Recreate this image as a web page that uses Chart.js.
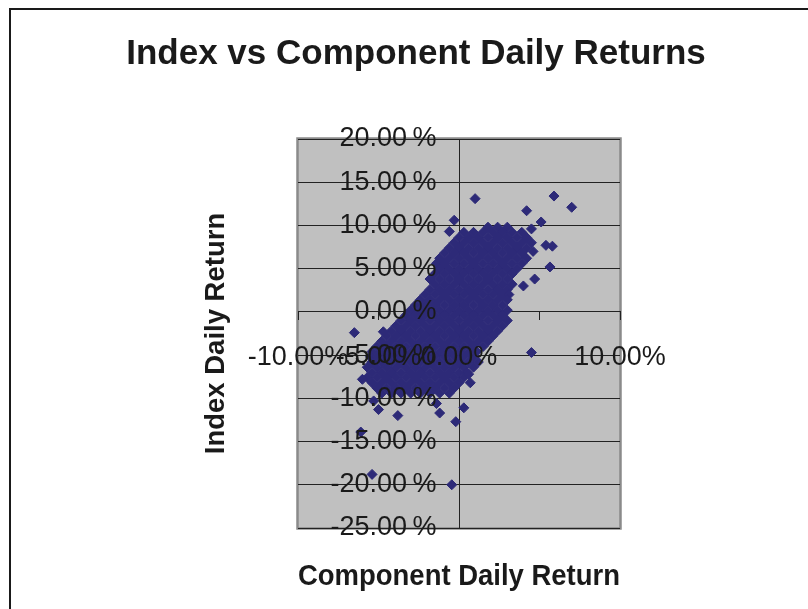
<!DOCTYPE html>
<html><head><meta charset="utf-8">
<script src="https://cdn.jsdelivr.net/npm/chart.js@4.4.1/dist/chart.umd.min.js"></script>
<style>html,body{margin:0;padding:0;background:#fff;}#c{display:block;}</style>
</head><body>
<canvas id="c" width="808" height="609"></canvas>
<script>
const chartTitle = 'Index vs Component Daily Returns';
const xAxisTitle = 'Component Daily Return';
const yAxisTitle = 'Index Daily Return';

const xTickValues = [-10, -5, 0, 5, 10];
const xTickLabels = ['-10.00%', '-5.00%', '0.00%', '', '10.00%'];
const yTickValues = [-25, -20, -15, -10, -5, 0, 5, 10, 15, 20];
const yTickLabels = ['-25.00\u2009%', '-20.00\u2009%', '-15.00\u2009%', '-10.00\u2009%', '-5.00\u2009%', '0.00\u2009%', '5.00\u2009%', '10.00\u2009%', '15.00\u2009%', '20.00\u2009%'];

// Dense cluster, read row by row: index return (y, %) and the component returns (x, %) seen on that row
const clusterIndexReturn = [9.8, 9.2, 8.6, 8.0, 7.4, 6.8, 6.2, 5.6, 5.0, 4.4, 3.8, 3.2, 2.6, 2.0, 1.4, 0.8, 0.2, -0.4, -1.0, -1.6, -2.2, -2.8, -3.4, -4.0, -4.6, -5.2, -5.8, -6.4, -7.0, -7.6, -8.2, -8.8, -9.4];
const clusterComponentReturn = [
  [1.8, 2.4, 3.0],
  [0.3, 0.9, 1.5, 2.1, 2.7, 3.3, 3.9],
  [0.0, 0.6, 1.2, 1.8, 2.4, 3.0, 3.6, 4.2],
  [-0.3, 0.3, 0.9, 1.5, 2.1, 2.7, 3.3, 3.9, 4.5],
  [-0.6, 0.0, 0.6, 1.2, 1.8, 2.4, 3.0, 3.6, 4.2],
  [-0.9, -0.3, 0.3, 0.9, 1.5, 2.1, 2.7, 3.3, 3.9],
  [-1.2, -0.6, 0.0, 0.6, 1.2, 1.8, 2.4, 3.0, 3.6, 4.2],
  [-1.4, -0.9, -0.3, 0.3, 0.9, 1.5, 2.1, 2.7, 3.3, 3.9],
  [-1.2, -0.6, 0.0, 0.6, 1.2, 1.8, 2.4, 3.0, 3.6],
  [-1.5, -0.9, -0.3, 0.3, 0.9, 1.5, 2.1, 2.7, 3.3],
  [-1.8, -1.2, -0.6, 0.0, 0.6, 1.2, 1.8, 2.4, 3.0],
  [-1.5, -0.9, -0.3, 0.3, 0.9, 1.5, 2.1, 2.7, 3.3],
  [-1.8, -1.2, -0.6, 0.0, 0.6, 1.2, 1.8, 2.4, 3.0],
  [-2.1, -1.5, -0.9, -0.3, 0.3, 0.9, 1.5, 2.1, 2.7, 3.1],
  [-2.4, -1.8, -1.2, -0.6, 0.0, 0.6, 1.2, 1.8, 2.4, 3.0],
  [-2.7, -2.1, -1.5, -0.9, -0.3, 0.3, 0.9, 1.5, 2.1, 2.7],
  [-3.0, -2.4, -1.8, -1.2, -0.6, 0.0, 0.6, 1.2, 1.8, 2.4, 3.0],
  [-3.3, -2.7, -2.1, -1.5, -0.9, -0.3, 0.3, 0.9, 1.5, 2.1, 2.7],
  [-3.6, -3.0, -2.4, -1.8, -1.2, -0.6, 0.0, 0.6, 1.2, 1.8, 2.4, 3.0],
  [-3.9, -3.3, -2.7, -2.1, -1.5, -0.9, -0.3, 0.3, 0.9, 1.5, 2.1, 2.7],
  [-4.2, -3.6, -3.0, -2.4, -1.8, -1.2, -0.6, 0.0, 0.6, 1.2, 1.8, 2.4],
  [-4.5, -3.9, -3.3, -2.7, -2.1, -1.5, -0.9, -0.3, 0.3, 0.9, 1.5, 2.1],
  [-4.8, -4.2, -3.6, -3.0, -2.4, -1.8, -1.2, -0.6, 0.0, 0.6, 1.2, 1.8],
  [-5.1, -4.5, -3.9, -3.3, -2.7, -2.1, -1.5, -0.9, -0.3, 0.3, 0.9, 1.5],
  [-5.4, -4.8, -4.2, -3.6, -3.0, -2.4, -1.8, -1.2, -0.6, 0.0, 0.6, 1.1],
  [-5.5, -5.1, -4.5, -3.9, -3.3, -2.7, -2.1, -1.5, -0.9, -0.3, 0.3, 0.9],
  [-5.4, -4.8, -4.2, -3.6, -3.0, -2.4, -1.8, -1.2, -0.6, 0.0, 0.6, 1.2],
  [-5.7, -5.1, -4.5, -3.9, -3.3, -2.7, -2.1, -1.5, -0.9, -0.3, 0.3, 0.9],
  [-5.4, -4.8, -4.2, -3.6, -3.0, -2.4, -1.8, -1.2, -0.6, 0.0, 0.5],
  [-5.7, -5.1, -4.5, -3.9, -3.3, -2.7, -2.1, -1.5, -0.9, -0.3, 0.3],
  [-5.4, -4.8, -4.2, -3.6, -3.0, -2.4, -1.8, -1.2, -0.6, 0.0],
  [-5.1, -4.5, -3.9, -3.3, -2.7, -2.1, -1.5, -0.9, -0.3],
  [-4.8, -4.2, -3.6, -3.0, -2.4, -1.8, -1.2, -0.6]
];

// Scattered points outside the cluster: [component %, index %]
const outlierPoints = [
  [1.0, 13.1], [5.9, 13.4], [7.0, 12.1], [4.2, 11.7], [5.1, 10.4], [-0.3, 10.6], [-0.6, 9.3],
  [4.5, 9.6], [5.8, 7.6], [5.4, 7.7], [4.6, 7.0], [5.65, 5.2], [4.7, 3.8], [4.0, 3.0],
  [4.5, -4.7], [-6.5, -2.4], [-4.7, -2.3], [0.6, -7.2], [0.7, -8.2], [-6.0, -7.8],
  [-5.3, -10.3], [-5.0, -11.3], [-3.8, -12.0], [-1.4, -10.6], [-1.2, -11.7], [0.3, -11.1],
  [-0.2, -12.7], [-6.1, -13.9], [-5.4, -18.8], [-0.45, -20.0]
];

const points = [];
clusterIndexReturn.forEach((y, i) => clusterComponentReturn[i].forEach(x => points.push({x, y})));
outlierPoints.forEach(([x, y]) => points.push({x, y}));

const FONT = "'Liberation Sans', Arial, sans-serif";
const TEXT = '#1a1a1a';
const LINE = '#222222';
const MARK = '#2D2A78';
const Y_LABEL_GAP = '\u00a0\u00a0\u00a0';

const plotFrame = {
  id: 'plotFrame',
  beforeDraw(chart) {
    const {ctx, chartArea: a} = chart;
    ctx.save();
    ctx.fillStyle = '#ffffff';
    ctx.fillRect(0, 0, chart.width, chart.height);
    ctx.strokeStyle = '#1a1a1a';
    ctx.lineWidth = 2;
    ctx.beginPath();
    ctx.moveTo(10, chart.height);
    ctx.lineTo(10, 9);
    ctx.lineTo(chart.width, 9);
    ctx.stroke();
    ctx.fillStyle = '#c0c0c0';
    ctx.fillRect(a.left, a.top, a.width, a.height);
    ctx.strokeStyle = '#8a8a8a';
    ctx.lineWidth = 2.5;
    ctx.strokeRect(a.left - 0.5, a.top - 0.5, a.width + 1, a.height + 1);
    ctx.restore();
  }
};

const titleOnly = (axis, position, text, size, weight, padding) => ({
  type: 'linear', axis, position, display: true,
  ticks: {display: false},
  grid: {display: false, drawTicks: false},
  border: {display: false},
  title: {display: true, text, color: TEXT, font: {family: FONT, size, weight}, padding}
});

new Chart(document.getElementById('c'), {
  type: 'scatter',
  data: {
    datasets: [{
      data: points,
      xAxisID: 'x', yAxisID: 'y',
      pointStyle: 'rectRot',
      pointRadius: 5,
      pointBorderWidth: 1,
      backgroundColor: MARK,
      borderColor: MARK
    }]
  },
  plugins: [plotFrame],
  options: {
    responsive: false,
    animation: false,
    devicePixelRatio: 1,
    layout: {padding: {left: 24, right: 0, top: 0, bottom: 0}},
    plugins: {
      legend: {display: false},
      tooltip: {enabled: false},
      title: {
        display: true, text: chartTitle, color: TEXT,
        font: {family: FONT, size: 35, weight: 'bold'},
        padding: {top: 33, bottom: 64}
      }
    },
    scales: {
      x: {
        type: 'linear', position: {y: 0}, min: -10, max: 10,
        ticks: {
          stepSize: 5, z: 1, padding: 21, color: TEXT, autoSkip: false, maxRotation: 0, minRotation: 0,
          font: {family: FONT, size: 27},
          callback: v => { const i = xTickValues.indexOf(v); return i < 0 ? '' : xTickLabels[i]; }
        },
        grid: {drawOnChartArea: false, drawTicks: true, tickLength: 8, color: LINE, lineWidth: 1},
        border: {display: true, color: LINE, width: 1}
      },
      y: {
        type: 'linear', position: {x: 0}, min: -25, max: 20,
        ticks: {
          stepSize: 5, z: 1, padding: 15, color: TEXT, autoSkip: false,
          font: {family: FONT, size: 27},
          callback: v => { const i = yTickValues.indexOf(v); return i < 0 ? '' : yTickLabels[i] + Y_LABEL_GAP; }
        },
        grid: {drawOnChartArea: true, drawTicks: true, tickLength: 8, color: LINE, lineWidth: 1},
        border: {display: true, color: LINE, width: 1}
      },
      xTitle: titleOnly('x', 'bottom', xAxisTitle, 29, 'bold', {top: 31.2, bottom: 15}),
      yTitle: titleOnly('y', 'left', yAxisTitle, 27.5, 'bold', {top: 175.5, bottom: 65.5}),
      yPad: titleOnly('y', 'right', '', 10, 'normal', {top: 0, bottom: 176})
    }
  }
});
</script>
</body></html>
